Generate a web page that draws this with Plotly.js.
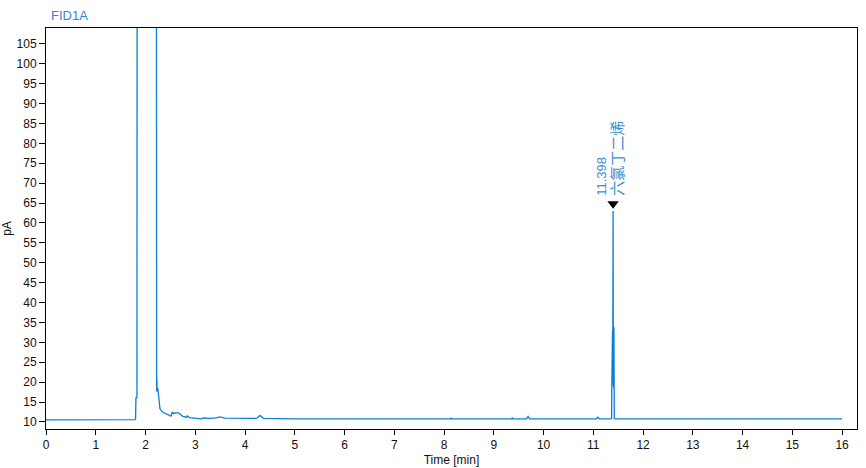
<!DOCTYPE html>
<html>
<head>
<meta charset="utf-8">
<script src="https://cdn.plot.ly/plotly-3.0.1.min.js"></script>
<style>html,body{margin:0;padding:0;background:#fff;}#chart{width:866px;height:468px;}</style>
</head>
<body>
<div id="chart"></div>
<script>
// Retention time (min)
const timeMin = [0, 1.79, 1.800, 1.808, 1.828, 1.836, 2.212, 2.216, 2.220, 2.224, 2.228, 2.232, 2.245, 2.26, 2.27, 2.29, 2.34, 2.43, 2.51, 2.54, 2.56, 2.59, 2.66, 2.71, 2.75, 2.82, 2.84, 2.88, 2.99, 3.10, 3.13, 3.16, 3.30, 3.43, 3.48, 3.56, 3.59, 4.22, 4.25, 4.29, 4.33, 4.37, 5.0, 8.13, 8.14, 8.15, 9.36, 9.37, 9.38, 9.66, 9.69, 9.72, 11.06, 11.09, 11.12, 11.36, 11.368, 11.372, 11.378, 11.382, 11.386, 11.390, 11.394, 11.398, 11.402, 11.406, 11.410, 11.414, 11.418, 11.422, 11.43, 16.0];
// Detector signal (pA)
const signalPA = [10.55, 10.6, 10.8, 16.2, 16.0, 300, 300, 20.9, 21.3, 17.8, 21.0, 17.6, 18.5, 17.1, 14.6, 13.3, 12.5, 11.9, 11.5, 12.5, 12.1, 12.3, 12.3, 11.9, 11.4, 11.2, 11.5, 11.1, 11.0, 11.0, 10.8, 11.0, 10.9, 11.05, 11.3, 11.1, 10.95, 10.9, 11.0, 11.6, 11.4, 10.9, 10.8, 10.8, 11.05, 10.8, 10.8, 11.0, 10.8, 10.8, 11.4, 10.8, 10.8, 11.2, 10.8, 10.8, 11.0, 18.5, 32.5, 19.0, 33.0, 20.0, 45.0, 63.0, 19.0, 34.0, 18.5, 33.8, 18.0, 10.9, 10.8, 10.8];
// Peak label
const peakTime = [11.398];
const peakMarkY = [64.8];
const peakRT = ['11.398'];
const peakCompound = ['六氯丁二烯'];
const traceName = 'FID1A';
const xTicks = [0,1,2,3,4,5,6,7,8,9,10,11,12,13,14,15,16];
const yTicks = [10,15,20,25,30,35,40,45,50,55,60,65,70,75,80,85,90,95,100,105];

const font = 'Arial, "Liberation Sans", "Noto Sans CJK SC", sans-serif';
const blue = '#0a7fd4';

const traces = [
  {x: timeMin, y: signalPA, type: 'scatter', mode: 'lines', line: {color: blue, width: 1.3}, hoverinfo: 'skip'},
  {x: peakTime, y: peakMarkY, type: 'scatter', mode: 'markers', marker: {symbol: 'triangle-down', size: 10, color: '#000'}, hoverinfo: 'skip'}
];

const layout = {
  width: 866, height: 468,
  margin: {l: 46, r: 9, t: 28, b: 39},
  paper_bgcolor: '#fff', plot_bgcolor: '#fff',
  showlegend: false,
  font: {family: font, size: 12, color: '#111'},
  xaxis: {
    range: [0, 16.3], tickvals: xTicks, ticktext: xTicks.map(String),
    showgrid: false, zeroline: false, showline: true, linecolor: '#000', linewidth: 1, mirror: true,
    ticks: 'outside', ticklen: 5, tickcolor: '#000',
    tickfont: {family: font, size: 12, color: '#111'},
    title: {text: 'Time [min]', font: {family: font, size: 12, color: '#111'}, standoff: 4}
  },
  yaxis: {
    range: [8.24, 108.97], tickvals: yTicks, ticktext: yTicks.map(String),
    showgrid: false, zeroline: false, showline: true, linecolor: '#000', linewidth: 1, mirror: true,
    ticks: 'outside', ticklen: 6, tickcolor: '#000',
    tickfont: {family: font, size: 12, color: '#111'},
    title: {text: 'pA', font: {family: font, size: 12, color: '#111'}, standoff: 6}
  },
  annotations: [
    {xref: 'paper', yref: 'paper', x: 0, y: 1, xanchor: 'left', yanchor: 'bottom', xshift: 3, yshift: 3,
     text: traceName, showarrow: false, font: {family: font, size: 13, color: '#2e8ad8'}},
    {x: peakTime[0], y: 66.2, xref: 'x', yref: 'y', xanchor: 'center', yanchor: 'bottom', xshift: -3,
     text: peakRT[0] + '<br><span style="font-size:15px">' + peakCompound[0] + '</span>',
     showarrow: false, textangle: -90, align: 'left',
     font: {family: font, size: 13, color: '#3a8fd6'}}
  ]
};

Plotly.newPlot('chart', traces, layout, {staticPlot: true, displayModeBar: false});
</script>
</body>
</html>
